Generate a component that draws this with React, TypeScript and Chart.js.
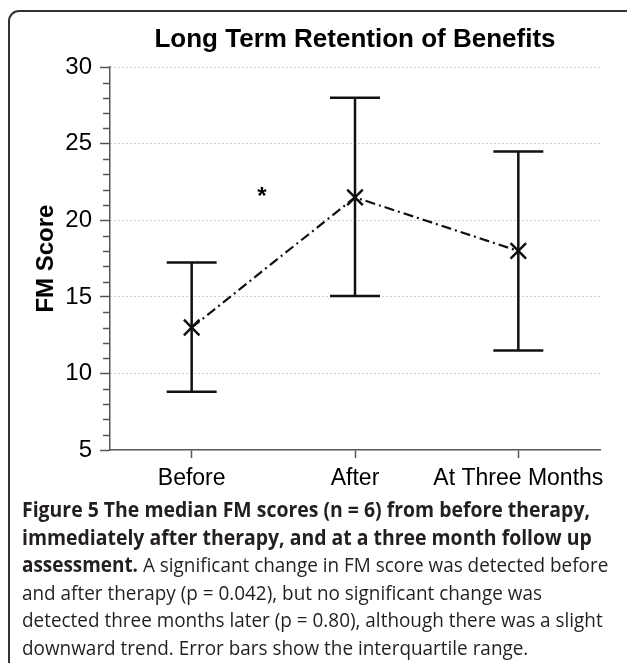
import React, { useEffect, useLayoutEffect, useRef } from 'react';
import { Chart, registerables } from 'chart.js';

Chart.register(...registerables);

// ---- data ----
const categories = ['Before', 'After', 'At Three Months'];
const medians = [13, 21.5, 18];
const lowerQuartiles = [8.8, 15.05, 11.5];
const upperQuartiles = [17.25, 28, 24.5];
const yRange = [5, 30];
const yMajorStep = 5;
const significancePosition = [0.43, 21.8]; // [category index, value]
const significanceLabel = '*';

const chartTitle = 'Long Term Retention of Benefits';
const yAxisTitle = 'FM Score';

const captionBoldLines = [
  'Figure 5 The median FM scores (n = 6) from before therapy,',
  'immediately after therapy, and at a three month follow up',
];
const captionMixedBold = 'assessment.';
const captionMixedRegular = ' A significant change in FM score was detected before';
const captionRegularLines = [
  'and after therapy (p = 0.042), but no significant change was',
  'detected three months later (p = 0.80), although there was a slight',
  'downward trend. Error bars show the interquartile range.',
];

const FONT = '"Liberation Sans", Arial, Helvetica, sans-serif';
const CAPTION_FONT = '"Open Sans", "Noto Sans", sans-serif';

const overlayPlugin = {
  id: 'overlay',
  afterDatasetsDraw(chart: any) {
    const { ctx, scales } = chart;
    const x = scales.x;
    const y = scales.y;
    ctx.save();
    // error bars
    ctx.strokeStyle = '#111';
    ctx.lineWidth = 2.5;
    ctx.setLineDash([]);
    const capHalf = 25;
    categories.forEach((_, i) => {
      const px = x.getPixelForValue(i);
      const yl = y.getPixelForValue(lowerQuartiles[i]);
      const yh = y.getPixelForValue(upperQuartiles[i]);
      ctx.beginPath();
      ctx.moveTo(px, yl);
      ctx.lineTo(px, yh);
      ctx.moveTo(px - capHalf, yl);
      ctx.lineTo(px + capHalf, yl);
      ctx.moveTo(px - capHalf, yh);
      ctx.lineTo(px + capHalf, yh);
      ctx.stroke();
    });
    // significance marker
    const sx = x.getPixelForValue(significancePosition[0]);
    const sy = y.getPixelForValue(significancePosition[1]);
    ctx.fillStyle = '#000';
    ctx.font = `bold 24px ${FONT}`;
    ctx.textAlign = 'center';
    ctx.textBaseline = 'alphabetic';
    ctx.fillText(significanceLabel, sx, sy + 11);
    // minor ticks on y axis
    ctx.strokeStyle = '#555';
    ctx.lineWidth = 1.5;
    for (let v = yRange[0]; v <= yRange[1]; v += 1) {
      if (v % yMajorStep === 0) continue;
      const py = Math.round(y.getPixelForValue(v)) + 0.5;
      ctx.beginPath();
      ctx.moveTo(y.right - 7, py);
      ctx.lineTo(y.right, py);
      ctx.stroke();
    }
    ctx.restore();
  },
};

function ChartCanvas() {
  const ref = useRef<HTMLCanvasElement | null>(null);
  useEffect(() => {
    if (!ref.current) return;
    const chart = new Chart(ref.current, {
      type: 'line',
      data: {
        labels: categories,
        datasets: [
          {
            data: medians,
            borderColor: '#111',
            borderWidth: 2.2,
            borderDash: [10, 4, 2, 4],
            pointStyle: 'crossRot',
            pointRadius: 11,
            pointBorderWidth: 2.5,
            pointBorderColor: '#111',
            pointBackgroundColor: '#111',
            fill: false,
            tension: 0,
          },
        ],
      },
      options: {
        animation: false,
        responsive: false,
        maintainAspectRatio: false,
        events: [],
        layout: { padding: { left: 27, right: 27, top: 0, bottom: 6 } },
        plugins: {
          legend: { display: false },
          tooltip: { enabled: false },
          title: {
            display: true,
            text: chartTitle,
            fullSize: false,
            color: '#000',
            font: { family: FONT, size: 26, weight: 'bold' },
            padding: { top: 24, bottom: 12 },
          },
        },
        scales: {
          x: {
            offset: true,
            grid: {
              display: true,
              drawOnChartArea: false,
              drawTicks: true,
              tickLength: 8,
              tickColor: '#555',
              tickWidth: 1.5,
              offset: false,
            },
            border: { color: '#555', width: 1.5 },
            ticks: {
              color: '#000',
              font: { family: FONT, size: 23 },
              padding: 7,
              maxRotation: 0,
              autoSkip: false,
            },
            afterFit: (s: any) => {
              s.height = 44;
            },
          },
          y: {
            min: yRange[0],
            max: yRange[1],
            ticks: {
              stepSize: yMajorStep,
              color: '#000',
              font: { family: FONT, size: 24 },
              padding: 8,
            },
            grid: {
              color: (c: any) => (c.tick && c.tick.value === yRange[0] ? 'rgba(0,0,0,0)' : '#999'),
              lineWidth: 1,
              tickLength: 10,
              tickColor: '#555',
              tickWidth: 1.5,
            },
            border: { color: '#555', width: 1.5, dash: [1, 3] },
            title: {
              display: true,
              text: yAxisTitle,
              color: '#000',
              font: { family: FONT, size: 24, weight: 'bold' },
              padding: { top: 5, bottom: 0 },
            },
            afterFit: (s: any) => {
              s.width = 83;
            },
          },
        },
      },
      plugins: [overlayPlugin],
    } as any);
    return () => chart.destroy();
  }, []);
  return (
    <canvas
      ref={ref}
      width={627}
      height={500}
      style={{ position: 'absolute', left: 0, top: 0, width: 627, height: 500, display: 'block' }}
    />
  );
}

const captionLeft = 22;
const captionTop = 496;
const captionBoldRight = 590;
const captionRegularRights = [607, 604]; // lines 3 and 5

function Caption() {
  const refs = useRef<(HTMLDivElement | null)[]>([]);
  useLayoutEffect(() => {
    const fit = () => {
      const els = refs.current;
      els.forEach((e) => e && (e.style.transform = 'none'));
      const w = els.map((e) => (e ? e.getBoundingClientRect().width : 1));
      const kBold = (captionBoldRight - captionLeft) / w[0];
      const k3 = (captionRegularRights[0] - captionLeft) / w[2];
      const k5 = (captionRegularRights[1] - captionLeft) / w[4];
      const kReg = (k3 + k5) / 2;
      els.forEach((e, i) => {
        if (!e) return;
        const k = i < 2 ? kBold : kReg;
        e.style.transform = `scaleX(${k})`;
      });
    };
    fit();
    if ((document as any).fonts && (document as any).fonts.ready) {
      (document as any).fonts.ready.then(fit);
    }
  }, []);
  const lineStyle: React.CSSProperties = {
    width: 'max-content',
    whiteSpace: 'nowrap',
    transformOrigin: 'left center',
    height: 27.5,
  };
  return (
    <div
      style={{
        position: 'absolute',
        left: captionLeft,
        top: captionTop,
        fontFamily: CAPTION_FONT,
        fontSize: 20.5,
        lineHeight: '27.5px',
        color: '#231f20',
      }}
    >
      {captionBoldLines.map((t, i) => (
        <div key={'b' + i} ref={(el) => { refs.current[i] = el; }} style={{ ...lineStyle, fontWeight: 700 }}>
          {t}
        </div>
      ))}
      <div ref={(el) => { refs.current[2] = el; }} style={lineStyle}>
        <span style={{ fontWeight: 700 }}>{captionMixedBold}</span>
        {captionMixedRegular}
      </div>
      {captionRegularLines.map((t, i) => (
        <div key={'r' + i} ref={(el) => { refs.current[3 + i] = el; }} style={lineStyle}>
          {t}
        </div>
      ))}
    </div>
  );
}

export default function App() {
  return (
    <div
      style={{
        position: 'absolute',
        left: 0,
        top: 0,
        width: 627,
        height: 663,
        overflow: 'hidden',
        background: '#fff',
      }}
    >
      <div
        style={{
          position: 'absolute',
          left: 8,
          top: 10,
          width: 700,
          height: 800,
          border: '2px solid #333',
          borderRadius: 11,
          boxSizing: 'border-box',
        }}
      />
      <ChartCanvas />
      <Caption />
    </div>
  );
}
